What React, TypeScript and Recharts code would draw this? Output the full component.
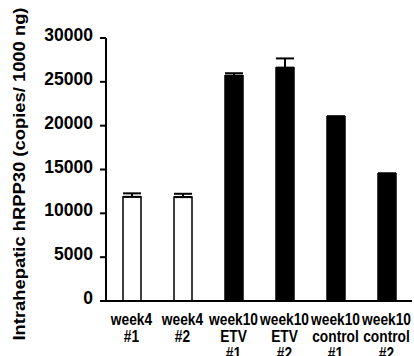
import React from 'react';
import { BarChart, Bar, XAxis, YAxis, ErrorBar, Cell, Label } from 'recharts';

// Sample groups and their label lines
const categories = ['week4 #1', 'week4 #2', 'week10 ETV #1', 'week10 ETV #2', 'week10 control #1', 'week10 control #2'];
const labelLines = [
  ['week4', '#1'],
  ['week4', '#2'],
  ['week10', 'ETV', '#1'],
  ['week10', 'ETV', '#2'],
  ['week10', 'control', '#1'],
  ['week10', 'control', '#2'],
];
// Intrahepatic hRPP30 copies per 1000 ng (mean) and upper SEM
const means = [11880, 11850, 25700, 26620, 21030, 14520];
const sems = [400, 380, 280, 1050, 40, 40];
const fills = ['#ffffff', '#ffffff', '#000000', '#000000', '#000000', '#000000'];
const yTicks = [0, 5000, 10000, 15000, 20000, 25000, 30000];

const data = categories.map((name, i) => ({
  name,
  value: means[i],
  err: [0, sems[i]],
}));

const FONT = 'Liberation Sans, Arial, sans-serif';

// Multi-line category label, slightly condensed horizontally
const XTick = (props: any) => {
  const { x, y, index } = props;
  const lines = labelLines[index] || [];
  return (
    <g transform={`translate(${x},${y}) scale(0.86,1)`}>
      <text x={0} y={0} textAnchor="middle" fontFamily={FONT} fontWeight="bold" fontSize={16} fill="#000">
        {lines.map((l, i) => (
          <tspan key={i} x={0} y={16 + i * 17}>
            {l}
          </tspan>
        ))}
      </text>
    </g>
  );
};

const YTick = (props: any) => {
  const { x, y, payload } = props;
  return (
    <text x={x + 1} y={y} dy={3} textAnchor="end" fontFamily={FONT} fontWeight="bold" fontSize={17.5} fill="#000">
      {payload.value}
    </text>
  );
};

const YLabel = () => (
  <text
    x={0}
    y={0}
    transform="translate(25,174) rotate(-90)"
    textAnchor="middle"
    fontFamily={FONT}
    fontWeight="bold"
    fontSize={16}
    textLength={333}
    lengthAdjust="spacingAndGlyphs"
    fill="#000"
  >
    Intrahepatic hRPP30 (copies/ 1000 ng)
  </text>
);

export default function App() {
  return (
    <div style={{ position: 'absolute', left: 0, top: 0, background: '#fff' }}>
      <BarChart
        width={414}
        height={356}
        data={data}
        margin={{ top: 38, right: 2, bottom: 0, left: 0 }}
        barSize={18}
      >
        <XAxis
          dataKey="name"
          interval={0}
          tickLine={false}
          axisLine={{ stroke: '#000', strokeWidth: 2 }}
          height={55}
          tick={<XTick />}
        />
        <YAxis
          width={106}
          domain={[0, 30000]}
          ticks={yTicks}
          interval={0}
          tickSize={6}
          tickMargin={8}
          tickLine={{ stroke: '#000', strokeWidth: 2 }}
          axisLine={{ stroke: '#000', strokeWidth: 2 }}
          tick={<YTick />}
        >
          <Label content={<YLabel />} />
        </YAxis>
        <Bar dataKey="value" isAnimationActive={false} stroke="#000" strokeWidth={1.5}>
          {data.map((d, i) => (
            <Cell key={d.name} fill={fills[i]} />
          ))}
          <ErrorBar dataKey="err" width={9} stroke="#000" strokeWidth={2} direction="y" />
        </Bar>
      </BarChart>
    </div>
  );
}
